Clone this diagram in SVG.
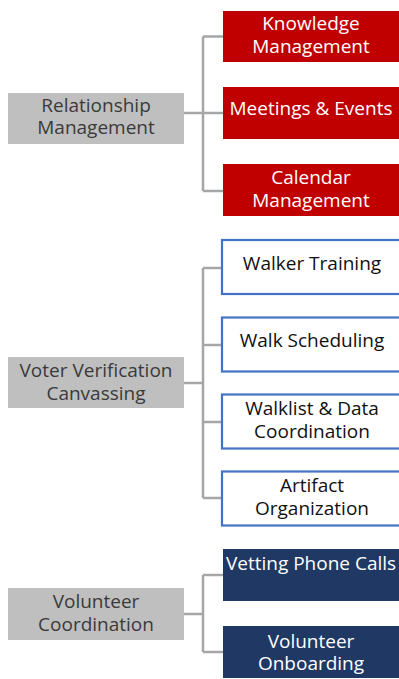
<svg xmlns="http://www.w3.org/2000/svg" width="399" height="679" viewBox="0 0 399 679">
<style>
text{font-family:"Open Sans","Noto Sans","Liberation Sans",sans-serif;font-size:19px;text-anchor:middle}
.g rect{fill:#BFBFBF}
.g text{fill:#3A3A3A}
.r rect{fill:#C00000}
.r text{fill:#FFFFFF}
.b rect{fill:#FFFFFF;stroke:#4472C4;stroke-width:2.2}
.b text{fill:#111111}
.n rect{fill:#203864}
.n text{fill:#FFFFFF}
.conn{fill:none;stroke:#A6A6A6;stroke-width:2.5}
</style>
<rect width="399" height="679" fill="#FFFFFF"/>
<g id="connectors" class="conn">
<path d="M184,113H203M203,36.5V191M203,36.5H223M203,113H223M203,191H223"/>
<path d="M184,383H203M203,268V498M203,268H222M203,345H222M203,422H222M203,498H222"/>
<path d="M184,614H203M203,575V652M203,575H223M203,652H223"/>
</g>
<g id="relationship-management" class="g"><rect x="8" y="93" width="176" height="51"/><text x="96" y="112">Relationship</text><text x="96" y="134">Management</text></g>
<g id="knowledge-management" class="r"><rect x="223" y="11" width="177" height="51"/><text x="311" y="30">Knowledge</text><text x="311" y="53">Management</text></g>
<g id="meetings-events" class="r"><rect x="223" y="87" width="177" height="52"/><text x="311" y="115">Meetings &amp; Events</text></g>
<g id="calendar-management" class="r"><rect x="223" y="164" width="177" height="52"/><text x="311" y="184">Calendar</text><text x="311" y="207">Management</text></g>
<g id="voter-verification-canvassing" class="g"><rect x="8" y="357" width="176" height="51"/><text x="96" y="376.5">Voter Verification</text><text x="96" y="400">Canvassing</text></g>
<g id="walker-training" class="b"><rect x="222" y="240" width="180" height="54"/><text x="312" y="270">Walker Training</text></g>
<g id="walk-scheduling" class="b"><rect x="222" y="317.5" width="180" height="54"/><text x="312" y="347">Walk Scheduling</text></g>
<g id="walklist-data-coordination" class="b"><rect x="222" y="394.5" width="180" height="54"/><text x="312" y="415">Walklist &amp; Data</text><text x="312" y="437.5">Coordination</text></g>
<g id="artifact-organization" class="b"><rect x="222" y="471.5" width="180" height="54"/><text x="312" y="492">Artifact</text><text x="312" y="515">Organization</text></g>
<g id="volunteer-coordination" class="g"><rect x="8" y="588" width="176" height="52"/><text x="96" y="608">Volunteer</text><text x="96" y="631">Coordination</text></g>
<g id="vetting-phone-calls" class="n"><rect x="223" y="549" width="177" height="52"/><text x="311" y="570">Vetting Phone Calls</text></g>
<g id="volunteer-onboarding" class="n"><rect x="223" y="626" width="177" height="52"/><text x="311" y="648">Volunteer</text><text x="311" y="670">Onboarding</text></g>
</svg>
